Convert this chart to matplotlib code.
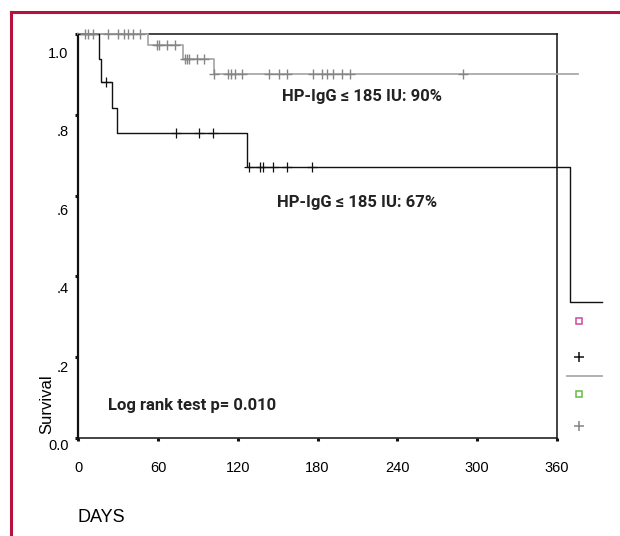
import numpy as np
import matplotlib
matplotlib.use("Agg")
import matplotlib.pyplot as plt
from matplotlib.lines import Line2D
from matplotlib.transforms import ScaledTranslation

# Kaplan-Meier curves (days, survival)
low_times = [0, 15.8, 16.9, 25.1, 28.9, 126.7, 370, 393.8]
low_surv = [1.0, 0.940, 0.882, 0.818, 0.755, 0.672, 0.337, 0.337]
low_censored = [20.8, 73.3, 91.0, 101.5, 128.7, 136.7, 138.8, 146.3, 157.3, 176.1]

high_times = [0, 52.7, 79.0, 102.3, 376]
high_surv = [1.0, 0.973, 0.938, 0.901, 0.901]
high_censored = [5, 7, 10.7, 22.3, 29.8, 34.3, 37.3, 41, 46.2,
                 59, 60.5, 67, 72.8,
                 80.3, 81.6, 83.3, 89.1, 94.8,
                 102.3, 112.9, 114.7, 117.9, 122.9, 143.5, 151, 156.8,
                 176.8, 183.1, 186.9, 191.8, 198.2, 204.5, 289.5]

x_ticks = [0, 60, 120, 180, 240, 300, 360]
y_ticks = [0.0, 0.2, 0.4, 0.6, 0.8, 1.0]
y_tick_labels = ["0.0", ".2", ".4", ".6", ".8", "1.0"]


def surv_at(times, surv, t):
    idx = np.searchsorted(times, t, side="right") - 1
    return np.array(surv)[idx]


fig = plt.figure(figsize=(6.2, 5.36), dpi=100)
ax = fig.add_axes([0.1263, 0.1834, 0.7716, 0.7526])

black = "#111111"
grey_line = "#aaaaaa"
grey_mark = "#858585"

ax.step(high_times, high_surv, where="post", color=grey_line, lw=1.3,
        clip_on=False, zorder=3)
ax.plot(high_censored, surv_at(high_times, high_surv, high_censored), ls="none",
        marker="+", ms=6.5, mew=1.0, color=grey_mark, clip_on=False, zorder=4)

ax.step(low_times, low_surv, where="post", color=black, lw=1.0,
        clip_on=False, zorder=3)
ax.plot(low_censored, surv_at(low_times, low_surv, low_censored), ls="none",
        marker="+", ms=6.5, mew=0.9, color=black, clip_on=False, zorder=4)

ax.set_xlim(0, 360)
ax.set_ylim(0, 1)
ax.set_xticks(x_ticks)
ax.set_yticks(y_ticks)
ax.set_yticklabels(y_tick_labels)

for s in ax.spines.values():
    s.set_linewidth(1.1)
    s.set_color(black)
    s.set_zorder(2)
ax.spines["left"].set_linewidth(1.6)

ax.tick_params(axis="both", direction="out", length=2, width=2.2, color=black,
               labelsize=10.5)
ax.tick_params(axis="x", pad=15)
ax.tick_params(axis="y", pad=5)
for lab in ax.get_xticklabels() + ax.get_yticklabels():
    lab.set_fontfamily("Liberation Sans")

# y tick labels sit slightly lower than their tick marks in the original
for v, lab in zip(y_ticks, ax.get_yticklabels()):
    dy = (7.3 + 10.4 * v) / 100.0
    lab.set_transform(lab.get_transform() + ScaledTranslation(0, -dy, fig.dpi_scale_trans))

bold_font = ["Roboto", "DejaVu Sans"]
ax.text(0.425, 0.845, "HP-IgG ≤ 185 IU: 90%", transform=ax.transAxes,
        fontsize=12, fontweight="bold", family=bold_font, color="#222222",
        ha="left", va="center")
ax.text(0.415, 0.582, "HP-IgG ≤ 185 IU: 67%", transform=ax.transAxes,
        fontsize=12, fontweight="bold", family=bold_font, color="#222222",
        ha="left", va="center")
ax.text(0.063, 0.081, "Log rank test p= 0.010", transform=ax.transAxes,
        fontsize=12, fontweight="bold", family=bold_font, color="#222222",
        ha="left", va="center")

fig.text(47 / 620, 1 - 404 / 536, "Survival", rotation=90, fontsize=12,
         family="Liberation Sans", ha="center", va="center")
fig.text(77.7 / 620, 1 - 517 / 536, "DAYS", fontsize=13,
         family="Liberation Sans", ha="left", va="center")

# side legend items
def fx(px):
    return px / 620


def fy(py):
    return 1 - py / 536


fig.add_artist(Line2D([fx(579)], [fy(321)], ls="none", marker="s", ms=4.5,
                      mfc="white", mec="#cc4aa0", mew=1.1))
fig.add_artist(Line2D([fx(579)], [fy(357)], ls="none", marker="+", ms=7,
                      mew=1.1, color=black))
fig.add_artist(Line2D([fx(566.7), fx(601.7)], [fy(375.7), fy(375.7)],
                      color=grey_line, lw=1.3))
fig.add_artist(Line2D([fx(579)], [fy(394.3)], ls="none", marker="s", ms=4.5,
                      mfc="white", mec="#66bb44", mew=1.1))
fig.add_artist(Line2D([fx(579)], [fy(426)], ls="none", marker="+", ms=7,
                      mew=1.1, color=grey_mark))

# crimson frame on the left and top
red = "#b8103f"
fig.add_artist(Line2D([fx(11), fx(11)], [0, fy(12)], color=red, lw=2.2))
fig.add_artist(Line2D([fx(11), 1], [fy(12), fy(12)], color=red, lw=2.2))

fig.savefig("out.png", dpi=100)
